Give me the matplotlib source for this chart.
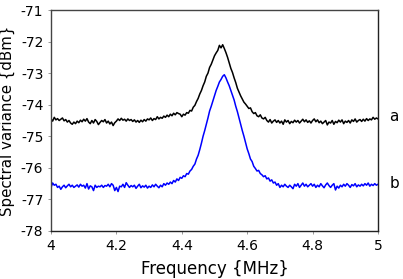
import numpy as np
import matplotlib
matplotlib.use("Agg")
import matplotlib.pyplot as plt

plt.rcParams['font.family'] = ['DejaVu Sans']
plt.rcParams['axes.unicode_minus'] = False

# frequency grid (MHz), 0.005 MHz steps
freq = np.linspace(4.0, 5.0, 201)

# trace a (black), dBm
trace_a = [
    -74.45, -74.52, -74.40, -74.48, -74.44, -74.50, -74.46, -74.42, -74.51, -74.47,
    -74.55, -74.50, -74.58, -74.62, -74.55, -74.60, -74.52, -74.57, -74.49, -74.54,
    -74.46, -74.52, -74.44, -74.55, -74.60, -74.50, -74.58, -74.47, -74.53, -74.63,
    -74.56, -74.50, -74.54, -74.47, -74.58, -74.52, -74.61, -74.55, -74.66, -74.57,
    -74.52, -74.45, -74.50, -74.43, -74.49, -74.46, -74.52, -74.45, -74.50, -74.47,
    -74.53, -74.48, -74.55, -74.50, -74.56, -74.49, -74.54, -74.47, -74.52, -74.45,
    -74.48, -74.42, -74.50, -74.44, -74.47, -74.38, -74.45, -74.40, -74.43, -74.36,
    -74.40, -74.33, -74.38, -74.30, -74.35, -74.27, -74.32, -74.25, -74.28, -74.30,
    -74.38, -74.30, -74.33, -74.25, -74.27, -74.18, -74.20, -74.08, -74.02, -73.90,
    -73.80, -73.66, -73.55, -73.40, -73.28, -73.10, -73.00, -72.82, -72.72, -72.58,
    -72.45, -72.36, -72.28, -72.12, -72.20, -72.10, -72.22, -72.35, -72.50, -72.68,
    -72.85, -72.98, -73.15, -73.30, -73.48, -73.60, -73.72, -73.82, -73.92, -73.98,
    -74.05, -74.12, -74.10, -74.22, -74.28, -74.25, -74.35, -74.38, -74.32, -74.42,
    -74.45, -74.40, -74.50, -74.55, -74.47, -74.58, -74.52, -74.48, -74.56, -74.50,
    -74.58, -74.52, -74.62, -74.48, -74.55, -74.50, -74.60, -74.53, -74.57, -74.49,
    -74.55, -74.50, -74.58, -74.52, -74.46, -74.54, -74.48, -74.56, -74.51, -74.58,
    -74.50, -74.45, -74.54, -74.48, -74.57, -74.52, -74.60, -74.55, -74.50, -74.64,
    -74.55, -74.58, -74.50, -74.62, -74.53, -74.57, -74.49, -74.55, -74.48, -74.60,
    -74.52, -74.56, -74.50, -74.58, -74.48, -74.53, -74.45, -74.55, -74.50, -74.47,
    -74.53, -74.46, -74.52, -74.44, -74.50, -74.45, -74.48, -74.40, -74.46, -74.42,
    -74.45,
]

# trace b (blue), dBm
trace_b = [
    -76.62, -76.48, -76.55, -76.52, -76.62, -76.58, -76.68, -76.60, -76.55, -76.63,
    -76.57, -76.52, -76.60, -76.55, -76.62, -76.58, -76.54, -76.61, -76.52, -76.58,
    -76.55, -76.64, -76.50, -76.67, -76.57, -76.60, -76.72, -76.55, -76.62, -76.58,
    -76.60, -76.55, -76.62, -76.56, -76.58, -76.52, -76.60, -76.50, -76.55, -76.72,
    -76.62, -76.75, -76.58, -76.60, -76.52, -76.62, -76.47, -76.55, -76.62, -76.56,
    -76.60, -76.55, -76.65, -76.58, -76.52, -76.63, -76.57, -76.61, -76.55, -76.64,
    -76.58, -76.62, -76.54, -76.60, -76.52, -76.58, -76.63, -76.55, -76.60, -76.50,
    -76.55, -76.48, -76.52, -76.45, -76.50, -76.40, -76.45, -76.35, -76.40, -76.30,
    -76.33, -76.25, -76.28, -76.18, -76.20, -76.10, -76.05, -75.95, -75.88, -75.72,
    -75.60, -75.42, -75.22, -75.00, -74.82, -74.62, -74.42, -74.20, -74.05, -73.88,
    -73.70, -73.55, -73.42, -73.28, -73.20, -73.10, -73.05, -73.15, -73.28, -73.40,
    -73.55, -73.70, -73.85, -74.05, -74.22, -74.42, -74.62, -74.82, -75.00, -75.20,
    -75.40, -75.55, -75.72, -75.80, -75.95, -76.02, -76.10, -76.08, -76.18, -76.22,
    -76.28, -76.25, -76.35, -76.32, -76.42, -76.38, -76.48, -76.45, -76.55, -76.50,
    -76.62, -76.55, -76.60, -76.52, -76.58, -76.62, -76.55, -76.60, -76.66, -76.52,
    -76.58, -76.50, -76.62, -76.55, -76.48, -76.58, -76.52, -76.60, -76.55, -76.50,
    -76.58, -76.52, -76.62, -76.55, -76.60, -76.50, -76.57, -76.63, -76.54, -76.48,
    -76.56, -76.62, -76.55, -76.50, -76.70, -76.58, -76.64, -76.55, -76.60, -76.52,
    -76.58, -76.50, -76.55, -76.62, -76.53, -76.57, -76.50, -76.60, -76.54, -76.58,
    -76.52, -76.57, -76.50, -76.55, -76.48, -76.58, -76.52, -76.56, -76.50, -76.55,
    -76.52,
]

x_ticks = [4, 4.2, 4.4, 4.6, 4.8, 5]
x_tick_labels = ["4", "4.2", "4.4", "4.6", "4.8", "5"]
y_ticks = [-78, -77, -76, -75, -74, -73, -72, -71]

fig = plt.figure(figsize=(4.03, 2.79), dpi=100)
ax = fig.add_axes([51 / 403, 1 - 231 / 279, 327 / 403, 221 / 279])

ax.plot(freq, trace_a, color='black', linewidth=1.1)
ax.plot(freq, trace_b, color='#0000ff', linewidth=1.1)

ax.set_xlim(4, 5)
ax.set_ylim(-78, -71)
ax.set_xticks(x_ticks)
ax.set_xticklabels(x_tick_labels)
ax.set_yticks(y_ticks)
ax.set_yticklabels([str(v) for v in y_ticks])
ax.tick_params(direction='out', length=2, width=0.6, labelsize=10, color='#888888')

for side in ['left', 'top']:
    ax.spines[side].set_color('#444444')
for side in ['right', 'bottom']:
    ax.spines[side].set_color('#222222')
for s in ax.spines.values():
    s.set_linewidth(1.0)

ax.set_xlabel("Frequency {MHz}", fontsize=12, labelpad=5)
ax.set_ylabel("Spectral variance {dBm}", fontsize=10.8, labelpad=4)

# curve labels to the right of the frame
ax.text(1.035, -74.37, "a", fontsize=11, ha='left', va='center',
        transform=ax.get_yaxis_transform())
ax.text(1.035, -76.5, "b", fontsize=11, ha='left', va='center',
        transform=ax.get_yaxis_transform())

fig.savefig("out.png", dpi=100)
